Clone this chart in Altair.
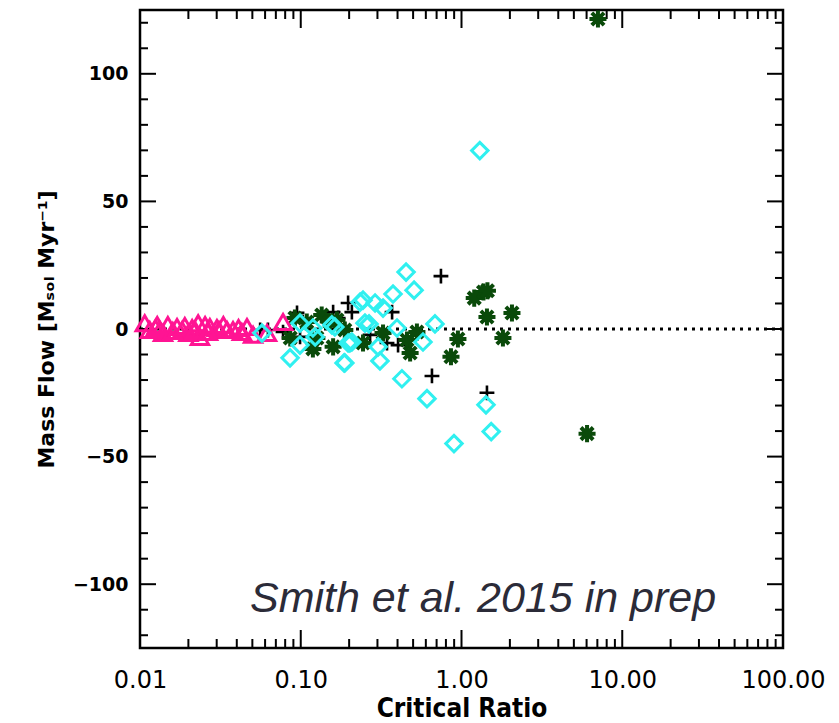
import altair as alt
import pandas as pd

# ---- data ----
tri_x = [0.0107, 0.0115, 0.0133, 0.0139, 0.0149, 0.0170, 0.0183, 0.0211, 0.0230, 0.0236,
         0.0254, 0.0272, 0.0301, 0.0348, 0.0379, 0.0463, 0.0505, 0.0617, 0.0776,
         0.0125, 0.0190, 0.0200, 0.0310, 0.0330, 0.0410, 0.0430, 0.0220, 0.0265, 0.0160, 0.0128]
tri_y = [2.3, -0.4, -0.4, -1.6, 1.6, 0.8, -0.4, 0.4, 2.3, -3.1,
         1.6, 0.8, 0.4, -0.4, -0.4, 0.8, -2.3, -1.6, 2.7,
         0.4, 1.2, -1.6, -0.4, 1.6, 0.4, -1.2, -0.4, -1.2, -0.8, 1.6]

dia_x = [0.0574, 0.0858, 0.0989, 0.0989, 0.119, 0.123, 0.156, 0.163, 0.197, 0.202,
         0.188, 0.234, 0.251, 0.244, 0.290, 0.325, 0.266, 0.303, 0.311, 0.186,
         0.375, 0.452, 0.507, 0.397, 0.684, 0.576, 0.426, 0.610, 1.42, 1.53,
         0.898, 1.30, 0.208]
dia_y = [-1.6, -11.3, -6.3, 2.3, 0.4, -3.1, 1.6, 0.8, -5.5, -5.5,
         -13.3, 10.5, 2.3, 11.3, 10.2, 8.2, 2.0, -7.0, -12.5, -13.3,
         13.7, 22.3, 15.2, 0.4, 2.0, -5.1, -19.5, -27.3, -29.7, -40.2,
         -44.9, 69.9, -5.1]

plus_x = [0.0559, 0.0625, 0.0776, 0.0948, 0.103, 0.099, 0.159, 0.197, 0.208, 0.171,
          0.370, 0.270, 0.344, 0.403, 0.745, 0.655, 1.44]
plus_y = [-0.4, -0.4, -1.2, 6.3, 2.7, -3.1, 6.6, 10.2, 6.6, 4.3,
          6.6, -2.3, -5.5, -6.3, 20.7, -18.4, -25.0]

ast_x = [0.092, 0.109, 0.135, 0.152, 0.126, 0.119, 0.168, 0.159, 0.244, 0.325,
         0.458, 0.479, 0.528, 0.188, 0.086, 0.95, 0.86, 1.20, 1.37, 1.45,
         1.44, 2.06, 1.81, 6.04, 7.06]
ast_y = [4.3, 2.7, 5.5, 2.7, -3.5, -7.8, 3.5, -7.0, -5.5, -1.6,
         -4.3, -9.4, -1.2, -0.4, -3.5, -3.9, -10.9, 12.1, 14.5, 15.0,
         4.7, 6.3, -3.5, -41.0, 121.5]

x_major = [0.01, 0.1, 1, 10, 100]
x_minor = [k * 10.0 ** d for d in range(-2, 2) for k in range(2, 10)]
y_major = [-100, -50, 0, 50, 100]
y_minor = [v for v in range(-120, 121, 10) if v % 50 != 0]

W, H = 643, 638

xs = alt.Scale(type="log", domain=[0.01, 100], nice=False)
ys = alt.Scale(domain=[-125, 125], nice=False, zero=False)

X = alt.X("x:Q", scale=xs, axis=alt.Axis(
    values=x_major, format=".2f", ticks=False, domain=False, grid=False,
    labelFont="DejaVu Sans", labelFontSize=24, labelColor="black", labelPadding=20,
    labelFlush=False, title="Critical Ratio", titleFont="DejaVu Sans Condensed",
    titleFontSize=26, titleFontWeight="bold", titleColor="black", titlePadding=3))
Y = alt.Y("y:Q", scale=ys, axis=alt.Axis(
    values=y_major, format="d", ticks=False, domain=False, grid=False,
    labelFont="DejaVu Sans", labelFontSize=19, labelFontWeight="bold", labelColor="black",
    labelPadding=12, title="Mass Flow [Mₛₒₗ Myr⁻¹]", titleFont="DejaVu Sans",
    titleFontSize=22, titleFontWeight="bold", titleColor="black", titlePadding=14))

tri = pd.DataFrame({"x": tri_x, "y": tri_y})
dia = pd.DataFrame({"x": dia_x, "y": dia_y})
plus = pd.DataFrame({"x": plus_x, "y": plus_y})
ast = pd.DataFrame({"x": ast_x, "y": ast_y})

PLUS = "M-1,0L1,0M0,-1L0,1"
AST = "M-1,0L1,0M0,-1L0,1M-0.72,-0.72L0.72,0.72M-0.72,0.72L0.72,-0.72"

zero = alt.Chart(pd.DataFrame({"y": [0]})).mark_rule(
    color="black", strokeWidth=3, strokeDash=[3, 5]).encode(
    y=Y, x=alt.value(0), x2=alt.value(W))

plus_l = alt.Chart(plus).mark_point(shape=PLUS, filled=False, color="black",
                                     strokeWidth=2.6, size=220, opacity=1).encode(x=X, y=Y)
ast_l = alt.Chart(ast).mark_point(shape=AST, filled=False, color="#0a4a0a",
                                   strokeWidth=4, size=290, opacity=1).encode(x=X, y=Y)
tri_l = alt.Chart(tri).mark_point(shape="triangle-up", filled=False, color="#ff1493",
                                   strokeWidth=3, size=300, opacity=1).encode(x=X, y=Y)
dia_l = alt.Chart(dia).mark_point(shape="diamond", filled=False, color="#30f0f0",
                                   strokeWidth=3, size=270, opacity=1).encode(x=X, y=Y)

xmaj = pd.DataFrame({"x": x_major})
xmin = pd.DataFrame({"x": x_minor})
ymaj = pd.DataFrame({"y": y_major})
ymin = pd.DataFrame({"y": y_minor})

def xt(df, ln):
    b = alt.Chart(df).mark_rule(color="black", strokeWidth=2).encode(
        x=X, y=alt.value(H), y2=alt.value(H - ln))
    t = alt.Chart(df).mark_rule(color="black", strokeWidth=2).encode(
        x=X, y=alt.value(0), y2=alt.value(ln))
    return [b, t]

def yt(df, ln):
    l = alt.Chart(df).mark_rule(color="black", strokeWidth=2).encode(
        y=Y, x=alt.value(0), x2=alt.value(ln))
    r = alt.Chart(df).mark_rule(color="black", strokeWidth=2).encode(
        y=Y, x=alt.value(W), x2=alt.value(W - ln))
    return [l, r]

note = alt.Chart(pd.DataFrame({"t": ["Smith et al. 2015 in prep"]})).mark_text(
    font="Liberation Sans", fontStyle="italic", fontSize=43, color="#2b2b38",
    align="left", baseline="alphabetic").encode(
    text="t:N", x=alt.value(110), y=alt.value(602))

layers = [zero] + xt(xmaj, 18) + xt(xmin, 9) + yt(ymaj, 16) + yt(ymin, 8) + [
    plus_l, ast_l, tri_l, dia_l, note]

chart = alt.layer(*layers).properties(
    width=W, height=H,
    autosize=alt.AutoSizeParams(type="none"),
    padding={"left": 140, "top": 10, "right": 56, "bottom": 75},
    background="white",
).configure_view(stroke="black", strokeWidth=2.5)

chart.save("out.html", embed_options={"renderer": "svg", "actions": False})
